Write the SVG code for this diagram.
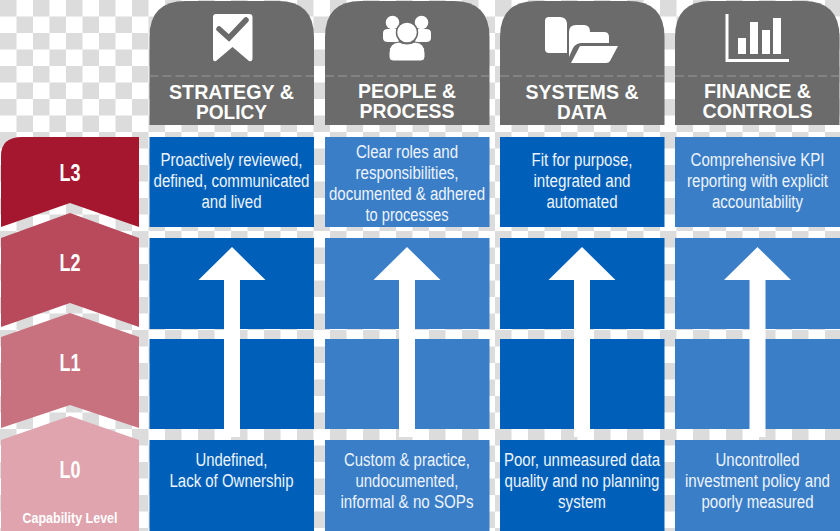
<svg xmlns="http://www.w3.org/2000/svg" width="840" height="531" viewBox="0 0 840 531">
<defs>
<pattern id="chk" width="33" height="33" patternUnits="userSpaceOnUse">
<rect width="33" height="33" fill="#ffffff"/>
<rect width="16.5" height="16.5" fill="#dcdcdc"/>
<rect x="16.5" y="16.5" width="16.5" height="16.5" fill="#dcdcdc"/>
</pattern>
<path id="hdr" d="M0 125V37Q0 1 36 1H128.500Q164.500 1 164.500 37V125Z"/>
<path id="up" d="M-8 437V280H-33.500L0 247L33.500 280H8V437Z"/>
</defs>
<style>
.h{fill:#6b6b6b}
.d{stroke:#9a9a9a;stroke-width:1;stroke-dasharray:9 4;fill:none}
.dk{fill:#0060b9}
.lt{fill:#3a7ec8}
.w{fill:#ffffff}
text{font-family:"Liberation Sans",Arial,sans-serif;fill:#ffffff;text-anchor:middle}
.ht{font-size:20.500px;font-weight:700}
.bt{font-size:18px;fill:#eef4fb}
.lv{font-size:23.500px;font-weight:700}
.cap{font-size:14px;font-weight:700}
.ar{fill:#ffffff}
</style>
<rect width="840" height="531" fill="url(#chk)"/>

<g id="level-L3"><path d="M1 227V156Q1 137 22 137H139V227L70 203Z" fill="#a5172f"/><text class="lv" x="70" y="181" textLength="21" lengthAdjust="spacingAndGlyphs">L3</text></g>
<g id="level-L2"><path d="M1 238L70 213L139 238V327L70 303L1 327Z" fill="#b84a5c"/><text class="lv" x="70" y="271" textLength="21" lengthAdjust="spacingAndGlyphs">L2</text></g>
<g id="level-L1"><path d="M1 337L70 313L139 337V428L70 405L1 428Z" fill="#c9727f"/><text class="lv" x="70" y="371" textLength="21" lengthAdjust="spacingAndGlyphs">L1</text></g>
<g id="level-L0"><path d="M1 440L70 416L139 440V531H1Z" fill="#e0a4ae"/><text class="lv" x="70" y="478" textLength="21" lengthAdjust="spacingAndGlyphs">L0</text><text class="cap" x="70" y="523" textLength="95" lengthAdjust="spacingAndGlyphs">Capability Level</text></g>

<g id="header-strategy">
<use href="#hdr" x="149.500" class="h"/><path class="d" d="M149.500 76H314"/>
<path class="w" d="M216 14H249Q252.500 14 252.500 17V58Q252.500 62 249 61L232.500 47L216 61Q213 62 213 58V17Q213 14 216 14Z"/>
<path d="M219 29L229 38L246 20" fill="none" stroke="#6b6b6b" stroke-width="5.500" stroke-linecap="round"/>
<text class="ht" x="231.500" y="99" textLength="125" lengthAdjust="spacingAndGlyphs">STRATEGY &amp;</text>
<text class="ht" x="231.500" y="119" textLength="71" lengthAdjust="spacingAndGlyphs">POLICY</text>
</g>
<g id="header-people">
<use href="#hdr" x="325" class="h"/><path class="d" d="M325 76H489.500"/>
<circle class="w" cx="392.500" cy="22.500" r="6.800"/><circle class="w" cx="421.500" cy="22.500" r="6.800"/>
<path class="w" d="M383 38V33Q383 29 388 29H396L399 42H388Q383 42 383 38Z"/>
<path class="w" d="M431 38V33Q431 29 426 29H418L415 42H426Q431 42 431 38Z"/>
<circle class="w" cx="407" cy="32.500" r="10.500" stroke="#6b6b6b" stroke-width="1.500"/>
<path class="w" d="M389 57V53Q389 43 399 42Q407 46 415 42Q425 43 425 53V57Q425 61 421 61H393Q389 61 389 57Z" stroke="#6b6b6b" stroke-width="1"/>
<text class="ht" x="407" y="98" textLength="98" lengthAdjust="spacingAndGlyphs">PEOPLE &amp;</text>
<text class="ht" x="407" y="118" textLength="95" lengthAdjust="spacingAndGlyphs">PROCESS</text>
</g>
<g id="header-systems">
<use href="#hdr" x="500" class="h"/><path class="d" d="M500 76H664.500"/>
<path class="w" d="M545 21Q545 17 549 17H560Q566 17 567 23V53H549Q545 53 545 49Z"/>
<path class="w" d="M569 32Q569 25 576 25H584Q590 25 590 32H604Q609 32 609 37V43H582Q576 43 573 48L569 57Z"/>
<path class="w" d="M580 46H618L610 61Q609 63 606 63H571Z"/>
<text class="ht" x="582" y="99" textLength="113" lengthAdjust="spacingAndGlyphs">SYSTEMS &amp;</text>
<text class="ht" x="582" y="119" textLength="50" lengthAdjust="spacingAndGlyphs">DATA</text>
</g>
<g id="header-finance">
<use href="#hdr" x="675" class="h"/><path class="d" d="M675 76H840"/>
<path d="M727 14V60.500H789" fill="none" stroke="#ffffff" stroke-width="3"/>
<rect class="w" x="738" y="38" width="8" height="16"/><rect class="w" x="750" y="22" width="8" height="32"/><rect class="w" x="762" y="30" width="8" height="24"/><rect class="w" x="773" y="18" width="8" height="36"/>
<text class="ht" x="757.500" y="98" textLength="107" lengthAdjust="spacingAndGlyphs">FINANCE &amp;</text>
<text class="ht" x="757.500" y="118" textLength="110" lengthAdjust="spacingAndGlyphs">CONTROLS</text>
</g>

<g id="col-strategy">
<rect class="dk" x="149.500" y="137" width="164.500" height="90"/><rect class="dk" x="149.500" y="238" width="164.500" height="91"/><rect class="dk" x="149.500" y="339" width="164.500" height="90"/><rect class="dk" x="149.500" y="440" width="164.500" height="91"/>
<text class="bt" x="231.500" y="166" textLength="142" lengthAdjust="spacingAndGlyphs">Proactively reviewed,</text>
<text class="bt" x="231.500" y="187" textLength="156" lengthAdjust="spacingAndGlyphs">defined, communicated</text>
<text class="bt" x="231.500" y="208" textLength="60" lengthAdjust="spacingAndGlyphs">and lived</text>
<text class="bt" x="231.500" y="466" textLength="72" lengthAdjust="spacingAndGlyphs">Undefined,</text>
<text class="bt" x="231.500" y="487" textLength="124" lengthAdjust="spacingAndGlyphs">Lack of Ownership</text>
</g>
<g id="col-people">
<rect class="lt" x="325" y="137" width="164.500" height="90"/><rect class="lt" x="325" y="238" width="164.500" height="91"/><rect class="lt" x="325" y="339" width="164.500" height="90"/><rect class="lt" x="325" y="440" width="164.500" height="91"/>
<text class="bt" x="407" y="158" textLength="102" lengthAdjust="spacingAndGlyphs">Clear roles and</text>
<text class="bt" x="407" y="179" textLength="103" lengthAdjust="spacingAndGlyphs">responsibilities,</text>
<text class="bt" x="407" y="200" textLength="156" lengthAdjust="spacingAndGlyphs">documented &amp; adhered</text>
<text class="bt" x="407" y="221" textLength="83" lengthAdjust="spacingAndGlyphs">to processes</text>
<text class="bt" x="407" y="466" textLength="126" lengthAdjust="spacingAndGlyphs">Custom &amp; practice,</text>
<text class="bt" x="407" y="487" textLength="103" lengthAdjust="spacingAndGlyphs">undocumented,</text>
<text class="bt" x="407" y="508" textLength="133" lengthAdjust="spacingAndGlyphs">informal &amp; no SOPs</text>
</g>
<g id="col-systems">
<rect class="dk" x="500" y="137" width="164.500" height="90"/><rect class="dk" x="500" y="238" width="164.500" height="91"/><rect class="dk" x="500" y="339" width="164.500" height="90"/><rect class="dk" x="500" y="440" width="164.500" height="91"/>
<text class="bt" x="582" y="166" textLength="101" lengthAdjust="spacingAndGlyphs">Fit for purpose,</text>
<text class="bt" x="582" y="187" textLength="97" lengthAdjust="spacingAndGlyphs">integrated and</text>
<text class="bt" x="582" y="208" textLength="71" lengthAdjust="spacingAndGlyphs">automated</text>
<text class="bt" x="582" y="466" textLength="156" lengthAdjust="spacingAndGlyphs">Poor, unmeasured data</text>
<text class="bt" x="582" y="487" textLength="155" lengthAdjust="spacingAndGlyphs">quality and no planning</text>
<text class="bt" x="582" y="508" textLength="48" lengthAdjust="spacingAndGlyphs">system</text>
</g>
<g id="col-finance">
<rect class="lt" x="675" y="137" width="165" height="90"/><rect class="lt" x="675" y="238" width="165" height="91"/><rect class="lt" x="675" y="339" width="165" height="90"/><rect class="lt" x="675" y="440" width="165" height="91"/>
<text class="bt" x="757.500" y="166" textLength="134" lengthAdjust="spacingAndGlyphs">Comprehensive KPI</text>
<text class="bt" x="757.500" y="187" textLength="141" lengthAdjust="spacingAndGlyphs">reporting with explicit</text>
<text class="bt" x="757.500" y="208" textLength="91" lengthAdjust="spacingAndGlyphs">accountability</text>
<text class="bt" x="757.500" y="466" textLength="84" lengthAdjust="spacingAndGlyphs">Uncontrolled</text>
<text class="bt" x="757.500" y="487" textLength="145" lengthAdjust="spacingAndGlyphs">investment policy and</text>
<text class="bt" x="757.500" y="508" textLength="112" lengthAdjust="spacingAndGlyphs">poorly measured</text>
</g>

<g id="connectors">
<use href="#up" x="232" class="ar"/><use href="#up" x="407" class="ar"/><use href="#up" x="582" class="ar"/><use href="#up" x="757.500" class="ar"/>
</g>
</svg>
